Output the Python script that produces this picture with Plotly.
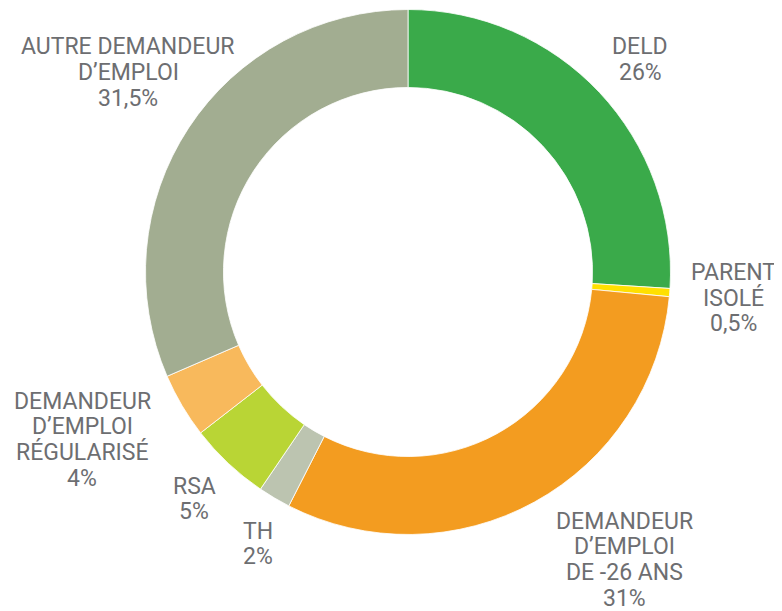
import plotly.graph_objects as go

W, H = 782, 611

categories = [
    "DELD",
    "PARENT ISOLÉ",
    "DEMANDEUR D’EMPLOI DE -26 ANS",
    "TH",
    "RSA",
    "DEMANDEUR D’EMPLOI RÉGULARISÉ",
    "AUTRE DEMANDEUR D’EMPLOI",
]
values = [26, 0.5, 31, 2, 5, 4, 31.5]
value_labels = ["26%", "0,5%", "31%", "2%", "5%", "4%", "31,5%"]
label_lines = [
    ["DELD"],
    ["PARENT", "ISOLÉ"],
    ["DEMANDEUR", "D’EMPLOI", "DE -26 ANS"],
    ["TH"],
    ["RSA"],
    ["DEMANDEUR", "D’EMPLOI", "RÉGULARISÉ"],
    ["AUTRE DEMANDEUR", "D’EMPLOI"],
]
colors = ["#3aaa4a", "#ffe000", "#f39c20", "#bcc4b0", "#b9d535", "#f8b95c", "#a2ad91"]

# label block centres (pixel x, first-line pixel y) as seen in the picture
label_pos = [
    (640, 47),
    (733, 272),
    (624, 521),
    (258, 531),
    (194, 486),
    (82, 401),
    (128, 47),
]
LINE_H = 25.7
X_SHIFT = -8   # page body margin offset
Y_SHIFT = -8
TEXT_COLOR = "#6d6e71"
FONT = "Roboto"

fig = go.Figure(
    go.Pie(
        labels=categories,
        values=values,
        hole=0.703,
        sort=False,
        direction="clockwise",
        rotation=0,
        marker=dict(colors=colors, line=dict(color="white", width=0.8)),
        textinfo="none",
        hoverinfo="label+value",
        showlegend=False,
        domain=dict(x=[137.5 / W, 662.5 / W], y=[(H - 527) / H, (H - 1) / H]),
    )
)

annotations = []
for lines, val, (px, py) in zip(label_lines, value_labels, label_pos):
    for i, t in enumerate(lines + [val]):
        annotations.append(
            dict(
                x=(px + X_SHIFT) / W,
                y=1 - (py + Y_SHIFT + i * LINE_H) / H,
                xref="paper",
                yref="paper",
                text=t,
                showarrow=False,
                xanchor="center",
                yanchor="middle",
                borderpad=0,
                font=dict(family=FONT, size=23, color=TEXT_COLOR),
            )
        )

fig.update_layout(
    width=W,
    height=H,
    margin=dict(l=0, r=0, t=0, b=0),
    paper_bgcolor="white",
    plot_bgcolor="white",
    annotations=annotations,
)

fig.write_html("out.html")
